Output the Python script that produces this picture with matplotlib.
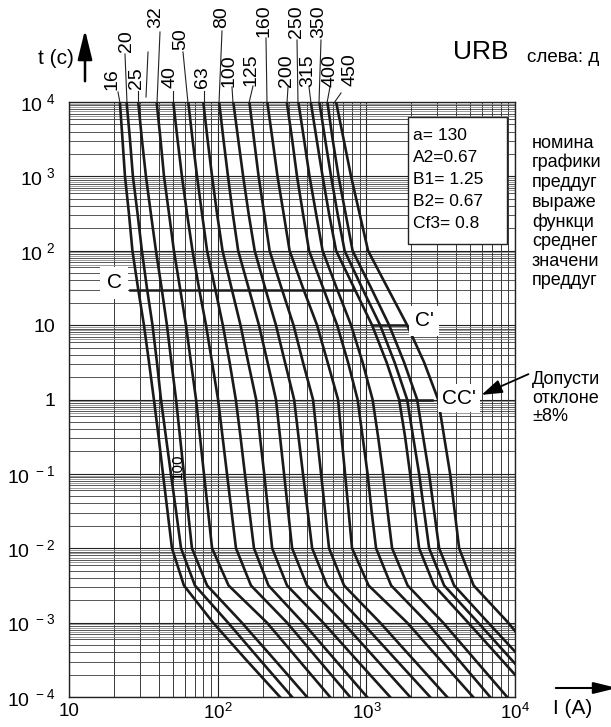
import numpy as np
import matplotlib
matplotlib.use("Agg")
import matplotlib.pyplot as plt
from matplotlib.patches import Rectangle, FancyArrowPatch
from matplotlib.lines import Line2D
from matplotlib.ticker import FixedLocator, NullLocator

plt.rcParams['font.family'] = ['Liberation Sans', 'DejaVu Sans']
plt.rcParams['mathtext.fontset'] = 'custom'
plt.rcParams['mathtext.rm'] = 'Liberation Sans'

# ---------------- data ----------------
times = [1e4, 3162, 1e3, 316, 1e2, 31.6, 10, 3.16, 1, 0.316, 0.1, 0.0316,
         0.01, 0.00316, 1e-3, 3.16e-4, 1e-4]                      # t (c)
ratings = ['16', '20', '25', '32', '40', '50', '63', '80', '100', '125',
           '160', '200', '250', '315', '350', '400', '450']
I_16 = [21.9, 22.8, 23.7, 25.2, 26.6, 29.0, 31.8, 34.4, 37.1, 39.9, 42.7, 45.8, 49.1, 59.1, 92.8, 155, 262]
I_20 = [24.3, 25.6, 26.8, 28.8, 30.8, 33.3, 36.3, 38.9, 41.4, 44.7, 48.3, 52.3, 56.5, 70.1, 117, 192, 316]
I_25 = [29.1, 30.8, 32.8, 35.4, 38.3, 41.8, 45.4, 48.7, 52.3, 55.6, 59.1, 62.9, 66.9, 84.6, 145, 241, 398]
I_32 = [38.7, 41.1, 43.4, 46.9, 50.6, 55.6, 61.0, 65.9, 71.3, 75.8, 80.6, 85.9, 91.4, 118, 214, 349, 569]
I_40 = [50.1, 53.5, 57.3, 62.0, 67.5, 74.6, 83.2, 91.4, 100.3, 107.5, 115.2, 123.5, 132.4, 167, 292, 476, 776]
I_50 = [63.2, 67.5, 72.4, 78.2, 84.6, 95.7, 108, 120, 132, 142, 152, 163, 175, 219, 374, 615, 1010]
I_63 = [79.8, 85.2, 91.4, 98.7, 107.5, 123.5, 142, 160, 181, 192, 205, 218, 232, 292, 511, 858, 1443]
I_80 = [102, 109, 117, 126, 137, 161, 189, 216, 246, 262, 279, 297, 316, 398, 696, 1170, 1968]
I_100 = [127, 137, 148, 161, 177, 208, 246, 283, 326, 349, 374, 402, 431, 543, 935, 1583, 2683]
I_125 = [163, 175, 188, 205, 223, 268, 323, 374, 437, 465, 495, 527, 560, 707, 1236, 2078, 3493]
I_160 = [215, 233, 252, 277, 304, 374, 465, 548, 644, 680, 718, 758, 800, 1034, 1879, 3133, 5226]
I_200 = [291, 316, 341, 374, 411, 511, 635, 752, 872, 942, 1018, 1083, 1161, 1466, 2561, 4174, 6803]
I_250 = [348, 380, 414, 458, 507, 630, 788, 942, 1100, 1198, 1295, 1388, 1488, 1893, 3282, 5390, 8855]
I_315 = [422, 462, 507, 560, 625, 826, 1091, 1367, 1659, 1820, 1968, 2110, 2263, 2854, 4837, 8131, 13666]
I_350 = [482, 527, 578, 639, 713, 935, 1236, 1547, 1879, 2061, 2263, 2445, 2642, 3333, 5649, 9494, 15958]
I_400 = [546, 592, 649, 724, 807, 1075, 1421, 1793, 2194, 2407, 2642, 2854, 3085, 3892, 6596, 11259, 19227]
I_450 = [625, 702, 788, 899, 1026, 1388, 1879, 2445, 3038, 3333, 3659, 3923, 4206, 5267, 8994, 14431, 23157]
curves = [I_16, I_20, I_25, I_32, I_40, I_50, I_63, I_80, I_100, I_125,
          I_160, I_200, I_250, I_315, I_350, I_400, I_450]

C_I = [25.6, 813]; C_t = 30
C1_I = [1108, 1820]; C1_t = 10
CC_I = [1685, 2767]; CC_t = 1

x_ticks = [10, 1e2, 1e3, 1e4]
x_ticklabels = ['10', r'$\mathregular{10^2}$', r'$\mathregular{10^3}$', r'$\mathregular{10^4}$']
y_ticks = [1e-4, 1e-3, 1e-2, 1e-1, 1, 10, 1e2, 1e3, 1e4]
y_ticklabels = [r'$\mathregular{10^{\ -4}}$', r'$\mathregular{10^{\ -3}}$',
                r'$\mathregular{10^{\ -2}}$', r'$\mathregular{10^{\ -1}}$', '1', '10',
                r'$\mathregular{10^{\ 2}}$', r'$\mathregular{10^{\ 3}}$', r'$\mathregular{10^{\ 4}}$']

params = ['a= 130', 'A2=0.67', 'B1= 1.25', 'B2= 0.67', 'Cf3= 0.8']
side_text = ['номина', 'графики', 'преддуг', 'выраже', 'функци', 'среднег', 'значени', 'преддуг']
tol_text = ['Допусти', 'отклоне', '±8%']

# ---------------- figure ----------------
W, H = 611, 727
fig = plt.figure(figsize=(W / 100, H / 100), dpi=100)
AX_L, AX_R, AX_T, AX_B = 69.3, 515.0, 102.0, 697.0
ax = fig.add_axes([AX_L / W, 1 - AX_B / H, (AX_R - AX_L) / W, (AX_B - AX_T) / H])


def fx(x):
    return x / W


def fy(y):
    return 1 - y / H


ax.set_xscale('log')
ax.set_yscale('log')
ax.set_xlim(10, 1e4)
ax.set_ylim(1e-4, 1e4)

# grid
xminor = [m * 10 ** e for e in range(1, 4) for m in range(2, 10)]
ymain_minor = [m * 10.0 ** e for e in range(-4, 4) for m in range(2, 10)]
yhalf = [m * 10.0 ** e for e in range(-4, 4) for m in (6.5, 7.5, 8.5, 9.5)]
for v in xminor:
    ax.axvline(v, color='#3a3a3a', lw=0.7, zorder=1)
for v in x_ticks:
    ax.axvline(v, color='#222222', lw=0.8, zorder=1)
for v in ymain_minor:
    ax.axhline(v, color='#3a3a3a', lw=0.6, zorder=1)
for v in yhalf:
    ax.axhline(v, color='#8a8a8a', lw=0.6, zorder=1)
for v in y_ticks:
    ax.axhline(v, color='#222222', lw=0.8, zorder=1)

ax.xaxis.set_major_locator(FixedLocator(x_ticks))
ax.xaxis.set_minor_locator(NullLocator())
ax.yaxis.set_major_locator(FixedLocator(y_ticks))
ax.yaxis.set_minor_locator(NullLocator())
ax.set_xticklabels(x_ticklabels, fontsize=13.5)
ax.set_yticklabels(y_ticklabels, fontsize=14)
ax.tick_params(axis='both', length=0)
ax.tick_params(axis='x', pad=4)
ax.tick_params(axis='y', pad=10)
for s in ax.spines.values():
    s.set_linewidth(1.0)
    s.set_color('#222222')

# curves
for I in curves:
    ax.plot(I, times, color='#1a1a1a', lw=1.9, zorder=3, solid_joinstyle='round')

# C lines
ax.plot(C_I, [C_t, C_t], color='#1a1a1a', lw=1.8, zorder=3)
ax.plot(C1_I, [C1_t, C1_t], color='#1a1a1a', lw=1.8, zorder=3)
ax.plot(CC_I, [CC_t, CC_t], color='#1a1a1a', lw=1.8, zorder=3)

fig.text(fx(114), fy(283), 'C', fontsize=15, ha='center', va='center',
         bbox=dict(facecolor='white', edgecolor='none', pad=5))
fig.text(fx(424), fy(321), "C'", fontsize=15, ha='center', va='center',
         bbox=dict(facecolor='white', edgecolor='none', pad=4))
fig.text(fx(459), fy(398), "CC'", fontsize=15, ha='center', va='center',
         bbox=dict(facecolor='white', edgecolor='none', pad=3))

# "100" rotated label on the curves
fig.text(fx(178), fy(466), '100', fontsize=11, rotation=90, ha='center', va='center')

# rating labels with leaders
lab_pos = [(112, 79, 118, 92, 120, 103), (126, 41, 125, 54, 127, 103),
           (136, 78, 138, 91, 138, 103), (156, 17, 160, 32, 157, 103),
           (170, 77, 173, 91, 173, 103), (181, 39, 183, 52, 188, 103),
           (202, 77, 204, 91, 204, 103), (222, 17, 222, 31, 219, 103),
           (229, 71, 232, 87, 233, 103), (251, 70, 253, 86, 249, 103),
           (264, 21, 266, 38, 267, 103), (286, 71, 288, 87, 287, 103),
           (296, 22, 297, 40, 298, 103), (308, 71, 309, 87, 311, 103),
           (319, 22, 321, 40, 319, 103), (330, 71, 330, 87, 327, 103),
           (350, 70, 341, 93, 334, 103)]
for name, (tx, ty, x1, y1, x2, y2) in zip(ratings, lab_pos):
    fig.text(fx(tx), fy(ty), name, fontsize=14, rotation=90, ha='center', va='center')
    fig.add_artist(Line2D([fx(x1), fx(x2)], [fy(y1), fy(y2)], color='#222222', lw=0.8))
fig.add_artist(Line2D([fx(148), fx(146)], [fy(52), fy(97)], color='#222222', lw=0.8))

# axis titles and arrows
fig.text(fx(56), fy(58), 't (c)', fontsize=15, ha='center', va='center')
fig.add_artist(FancyArrowPatch((fx(85), fy(84)), (fx(85), fy(27)), transform=fig.transFigure,
                               arrowstyle='-|>,head_length=0.9,head_width=0.22',
                               mutation_scale=20, lw=1.8, color='black'))
fig.text(fx(573), fy(708), 'I (A)', fontsize=15, ha='center', va='center')
fig.add_artist(FancyArrowPatch((fx(553), fy(688)), (fx(620), fy(688)), transform=fig.transFigure,
                               arrowstyle='-|>,head_length=0.9,head_width=0.22',
                               mutation_scale=16, lw=1.5, color='black'))

fig.text(fx(453), fy(52), 'URB', fontsize=19, ha='left', va='center')
fig.text(fx(527), fy(58), 'слева: д', fontsize=13.5, ha='left', va='center')

# parameter box
fig.add_artist(Rectangle((fx(408), fy(244)), fx(507) - fx(408), fy(117) - fy(244),
                         transform=fig.transFigure, facecolor='white', edgecolor='#222222', lw=1.0, zorder=4))
for k, s in enumerate(params):
    fig.text(fx(413), fy(135 + k * 22.2), s, fontsize=12.5, ha='left', va='center', zorder=5)

for k, s in enumerate(side_text):
    fig.text(fx(532), fy(143 + k * 19.7), s, fontsize=13, ha='left', va='center')
for k, s in enumerate(tol_text):
    fig.text(fx(532), fy(380 + k * 18.5), s, fontsize=13, ha='left', va='center')
fig.add_artist(FancyArrowPatch((fx(531), fy(373)), (fx(479), fy(396)), transform=fig.transFigure,
                               arrowstyle='-|>,head_length=0.9,head_width=0.3',
                               mutation_scale=14, lw=1.3, color='black'))

fig.savefig('out.png', dpi=100)
